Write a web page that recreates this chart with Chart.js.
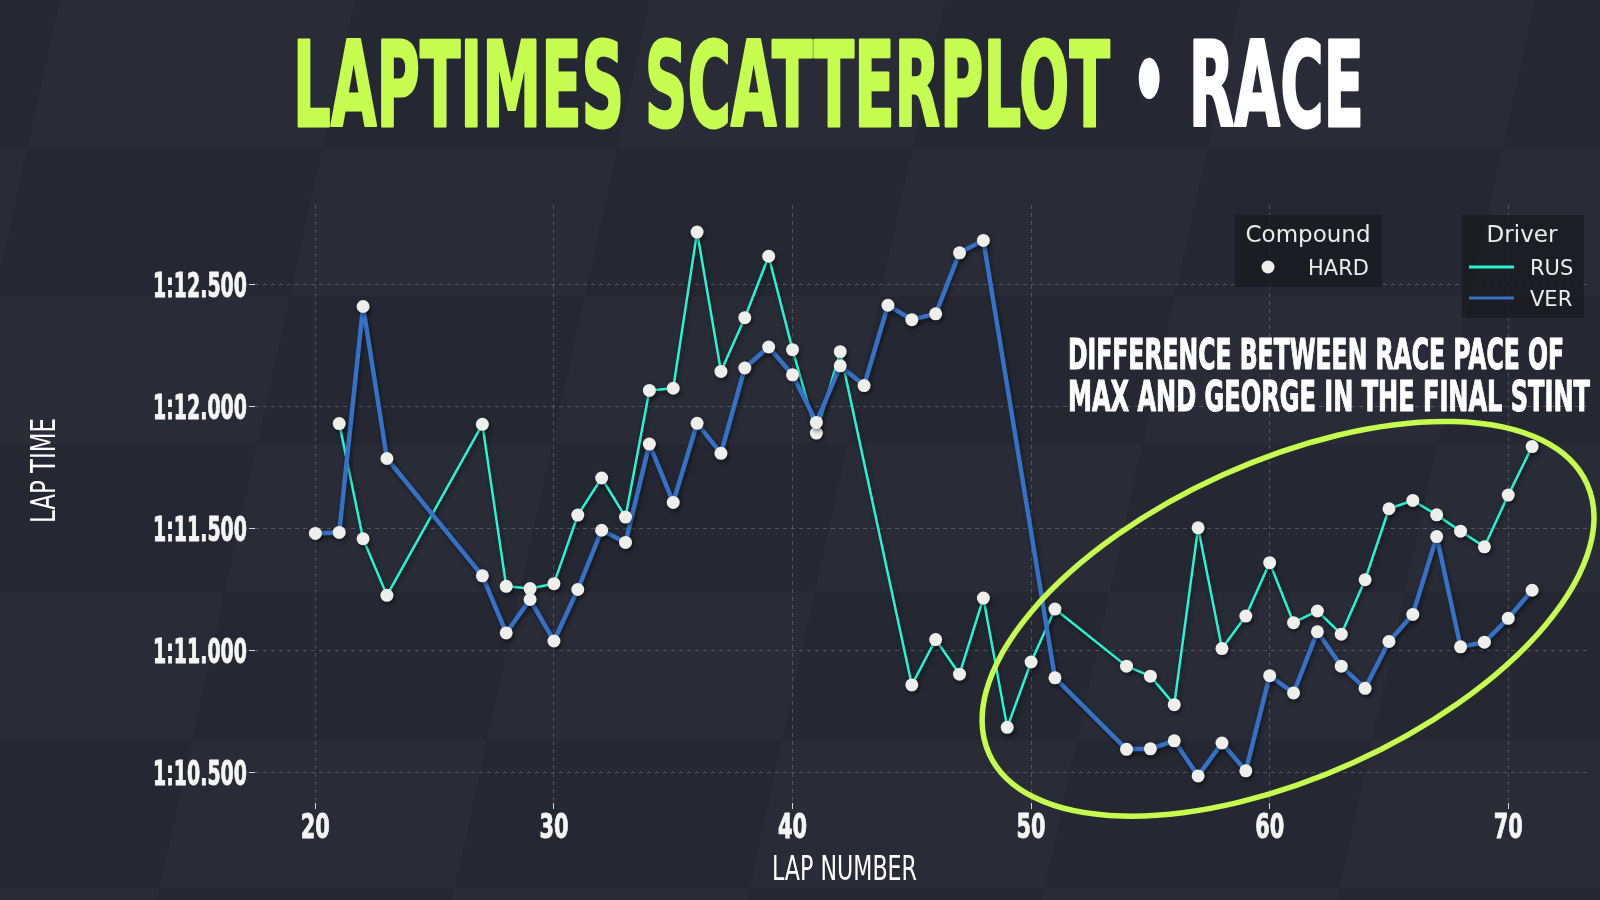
<!DOCTYPE html>
<html>
<head>
<meta charset="utf-8">
<title>Laptimes scatterplot - race</title>
<script src="https://cdn.jsdelivr.net/npm/chart.js@4.4.1/dist/chart.umd.min.js"></script>
<style>
  html, body { margin: 0; padding: 0; background: #252732; }
  #wrap { width: 1600px; height: 900px; }
</style>
</head>
<body>
<div id="wrap"><canvas id="chart" width="1600" height="900"></canvas></div>
<script>
// lap numbers and lap times (seconds) per driver
var rusLaps = [21, 22, 23, 27, 28, 29, 30, 31, 32, 33, 34, 35, 36, 37, 38, 39, 40, 41, 42,
    45, 46, 47, 48, 49, 50, 51, 54, 55, 56, 57, 58, 59, 60, 61, 62, 63, 64, 65, 66, 67, 68, 69, 70, 71];
var rusTimes = [71.930, 71.458, 71.226, 71.927, 71.263, 71.254, 71.274, 71.555, 71.707, 71.547, 72.066, 72.075, 72.715, 72.144, 72.364, 72.616, 72.233, 71.891, 72.225,
    70.859, 71.045, 70.903, 71.215, 70.685, 70.953, 71.170, 70.936, 70.895, 70.778, 71.503, 71.008, 71.141, 71.360, 71.114, 71.162, 71.067, 71.290, 71.581, 71.615, 71.556, 71.489, 71.425, 71.637, 71.836];

var verLaps = [20, 21, 22, 23, 27, 28, 29, 30, 31, 32, 33, 34, 35, 36, 37, 38, 39, 40, 41, 42, 43, 44, 45, 46, 47, 48,
    51, 54, 55, 56, 57, 58, 59, 60, 61, 62, 63, 64, 65, 66, 67, 68, 69, 70, 71];
var verTimes = [71.480, 71.484, 72.410, 71.787, 71.306, 71.072, 71.209, 71.039, 71.250, 71.493, 71.443, 71.846, 71.607, 71.931, 71.808, 72.158, 72.244, 72.130, 71.935, 72.167, 72.086, 72.415, 72.356, 72.380, 72.630, 72.681,
    70.888, 70.595, 70.597, 70.630, 70.486, 70.621, 70.507, 70.897, 70.826, 71.077, 70.936, 70.845, 71.037, 71.148, 71.467, 71.015, 71.034, 71.132, 71.247];

var drivers = ['RUS', 'VER'];
var driverColors = ['#27f4d2', '#3671c6'];
var compounds = ['HARD'];
var xTickValues = [20, 30, 40, 50, 60, 70];
var yTickValues = [70.5, 71.0, 71.5, 72.0, 72.5];

var titleMain = 'LAPTIMES SCATTERPLOT';
var titleSession = 'RACE';
var noteLines = ['DIFFERENCE BETWEEN RACE PACE OF', 'MAX AND GEORGE IN THE FINAL STINT'];
// centre of the highlight ring, in data units (lap, seconds)
var ringLap = 60.77;
var ringTime = 71.13;

var LIME = '#c6fc4f';
var DOT = '#eeeeea';
var COND = "'DejaVu Sans', sans-serif";

function toPoints(laps, times) {
    return laps.map(function (lap, i) {
        return { x: lap, y: times[i] };
    });
}

function formatLapTime(v) {
    var secs = v - 60;
    return '1:' + (secs < 10 ? '0' : '') + secs.toFixed(3);
}

// text squeezed horizontally by sx (the original uses a tall condensed display face)
function squeezeText(ctx, text, x, y, sx, font, color, align, heavy) {
    ctx.save();
    ctx.font = font;
    var w = ctx.measureText(text).width * sx;
    var left = align === 'right' ? x - w : align === 'center' ? x - w / 2 : x;
    ctx.translate(left, y);
    ctx.scale(sx, 1);
    ctx.fillStyle = color;
    ctx.textAlign = 'left';
    ctx.textBaseline = 'alphabetic';
    ctx.fillText(text, 0, 0);
    if (heavy) {
        ctx.strokeStyle = color;
        ctx.lineWidth = heavy;
        ctx.lineJoin = 'round';
        ctx.strokeText(text, 0, 0);
    }
    ctx.restore();
}

function fitText(ctx, text, x, y, width, font, color, heavy) {
    ctx.save();
    ctx.font = font;
    var sx = width / ctx.measureText(text).width;
    ctx.restore();
    squeezeText(ctx, text, x, y, sx, font, color, 'left', heavy);
}

var backdrop = {
    id: 'backdrop',
    beforeDraw: function (chart) {
        var ctx = chart.ctx;
        ctx.save();
        ctx.fillStyle = '#252732';
        ctx.fillRect(0, 0, chart.width, chart.height);
        // faint slanted checker tiles
        var tw = 295, th = 148;
        for (var r = 0; r < 7; r++) {
            for (var c = -1; c < 8; c++) {
                if ((r + c) % 2 !== 0) continue;
                var y0 = r * th, y1 = y0 + th;
                var x0 = c * tw - 0.22 * y0 + 60;
                ctx.beginPath();
                ctx.moveTo(x0, y0);
                ctx.lineTo(x0 + tw, y0);
                ctx.lineTo(x0 + tw - 0.22 * th, y1);
                ctx.lineTo(x0 - 0.22 * th, y1);
                ctx.closePath();
                ctx.fillStyle = 'rgba(255,255,255,0.018)';
                ctx.fill();
            }
        }
        ctx.restore();
    }
};

var shadows = {
    id: 'shadows',
    beforeDatasetDraw: function (chart) {
        var ctx = chart.ctx;
        ctx.save();
        ctx.shadowColor = 'rgba(0,0,0,0.45)';
        ctx.shadowBlur = 4;
        ctx.shadowOffsetX = 1.5;
        ctx.shadowOffsetY = 2.5;
    },
    afterDatasetDraw: function (chart) {
        chart.ctx.restore();
    }
};

var overlay = {
    id: 'overlay',
    afterDraw: function (chart) {
        var ctx = chart.ctx;
        var xs = chart.scales.x, ys = chart.scales.y;

        // tick labels, placed from the chart scales
        var tickFont = 'bold 34px ' + COND;
        ctx.save();
        ctx.font = tickFont;
        var tsx = 94 / ctx.measureText('1:12.500').width;
        ctx.restore();
        ys.ticks.forEach(function (t) {
            squeezeText(ctx, formatLapTime(t.value), 247, ys.getPixelForValue(t.value) + 12.5, tsx, tickFont, '#f5f5f5', 'right', 1);
        });
        xs.ticks.forEach(function (t) {
            squeezeText(ctx, String(t.value), xs.getPixelForValue(t.value), 838, tsx * 1.1, tickFont, '#f5f5f5', 'center', 1);
        });

        // title
        ctx.save();
        ctx.font = 'bold 117px ' + COND;
        var w1 = ctx.measureText(titleMain + ' ').width;
        var wb = ctx.measureText('\u2022 ').width;
        var w2 = ctx.measureText(titleSession).width;
        var sx = 1071 / (w1 + wb + w2);
        ctx.translate(293, 126);
        ctx.scale(sx, 1);
        ctx.textBaseline = 'alphabetic';
        ctx.lineWidth = 3;
        ctx.lineJoin = 'round';
        ctx.fillStyle = LIME;
        ctx.strokeStyle = LIME;
        ctx.fillText(titleMain, 0, 0);
        ctx.strokeText(titleMain, 0, 0);
        ctx.fillStyle = '#ffffff';
        ctx.strokeStyle = '#ffffff';
        ctx.fillText('\u2022', w1, -4);
        ctx.fillText(titleSession, w1 + wb, 0);
        ctx.strokeText(titleSession, w1 + wb, 0);
        ctx.restore();

        // axis titles
        fitText(ctx, 'LAP NUMBER', 772, 880, 145, '34px ' + COND, '#ffffff');
        ctx.save();
        ctx.translate(55, 523);
        ctx.rotate(-Math.PI / 2);
        fitText(ctx, 'LAP TIME', 0, 0, 105, '34px ' + COND, '#ffffff');
        ctx.restore();

        // highlight ring
        var cx = xs.getPixelForValue(ringLap);
        var cy = ys.getPixelForValue(ringTime);
        ctx.save();
        ctx.beginPath();
        ctx.ellipse(cx, cy, 328, 158, -24.3 * Math.PI / 180, 0, Math.PI * 2);
        ctx.strokeStyle = LIME;
        ctx.lineWidth = 5.5;
        ctx.stroke();
        ctx.restore();

        // note
        fitText(ctx, noteLines[0], 1068, 369, 496, 'bold 43px ' + COND, '#ffffff', 1.2);
        fitText(ctx, noteLines[1], 1068, 411, 522, 'bold 43px ' + COND, '#ffffff', 1.2);

        // legends
        ctx.save();
        ctx.fillStyle = 'rgba(27,28,33,0.85)';
        ctx.fillRect(1235, 215, 147, 72);
        ctx.fillRect(1462, 215, 122, 103);
        ctx.fillStyle = '#ececec';
        ctx.textBaseline = 'alphabetic';
        ctx.textAlign = 'center';
        ctx.font = '23px "DejaVu Sans", sans-serif';
        ctx.fillText('Compound', 1308, 242);
        ctx.fillText('Driver', 1522, 242);
        ctx.textAlign = 'left';
        ctx.font = '21px "DejaVu Sans", sans-serif';
        compounds.forEach(function (name, i) {
            var y = 267 + i * 31;
            ctx.beginPath();
            ctx.arc(1268, y, 6.5, 0, Math.PI * 2);
            ctx.fillStyle = DOT;
            ctx.fill();
            ctx.fillStyle = '#ececec';
            ctx.fillText(name, 1308, y + 8);
        });
        drivers.forEach(function (name, i) {
            var y = 267 + i * 31;
            ctx.beginPath();
            ctx.moveTo(1469, y);
            ctx.lineTo(1514, y);
            ctx.strokeStyle = driverColors[i];
            ctx.lineWidth = 3;
            ctx.stroke();
            ctx.fillStyle = '#ececec';
            ctx.fillText(name, 1530, y + 8);
        });
        ctx.restore();
    }
};

var rusPoints = toPoints(rusLaps, rusTimes);
var verPoints = toPoints(verLaps, verTimes);

var gridColor = 'rgba(150,155,170,0.38)';

new Chart(document.getElementById('chart'), {
    type: 'scatter',
    data: {
        datasets: [
            { label: 'RUS', data: rusPoints, showLine: true, borderColor: driverColors[0], borderWidth: 2.5, borderJoinStyle: 'round', pointRadius: 0, order: 4 },
            { label: 'VER', data: verPoints, showLine: true, borderColor: driverColors[1], borderWidth: 4.5, borderJoinStyle: 'round', pointRadius: 0, order: 3 },
            { label: 'RUS HARD', data: rusPoints, showLine: false, pointRadius: 6.5, pointBackgroundColor: DOT, pointBorderWidth: 0, order: 2 },
            { label: 'VER HARD', data: verPoints, showLine: false, pointRadius: 6.5, pointBackgroundColor: DOT, pointBorderWidth: 0, order: 1 }
        ]
    },
    options: {
        responsive: false,
        animation: false,
        devicePixelRatio: 1,
        layout: { padding: { top: 205, right: 13, left: 0, bottom: 0 } },
        plugins: {
            legend: { display: false },
            tooltip: { enabled: false }
        },
        scales: {
            x: {
                type: 'linear',
                min: 17.47,
                max: 73.3,
                afterBuildTicks: function (scale) {
                    scale.ticks = xTickValues.map(function (v) { return { value: v }; });
                },
                afterFit: function (scale) { scale.height = 97; },
                grid: { color: gridColor, lineWidth: 1, tickColor: '#d8d8d8', tickLength: 6, tickBorderDash: [] },
                border: { display: false, dash: [4, 4] },
                // labels are drawn condensed by the overlay plugin
                ticks: { display: false }
            },
            y: {
                type: 'linear',
                min: 70.375,
                max: 72.826,
                afterBuildTicks: function (scale) {
                    scale.ticks = yTickValues.map(function (v) { return { value: v }; });
                },
                afterFit: function (scale) { scale.width = 255; },
                grid: { color: gridColor, lineWidth: 1, tickColor: '#d8d8d8', tickLength: 6, tickBorderDash: [] },
                border: { display: false, dash: [4, 4] },
                ticks: { display: false }
            }
        }
    },
    plugins: [backdrop, shadows, overlay]
});
</script>
</body>
</html>
